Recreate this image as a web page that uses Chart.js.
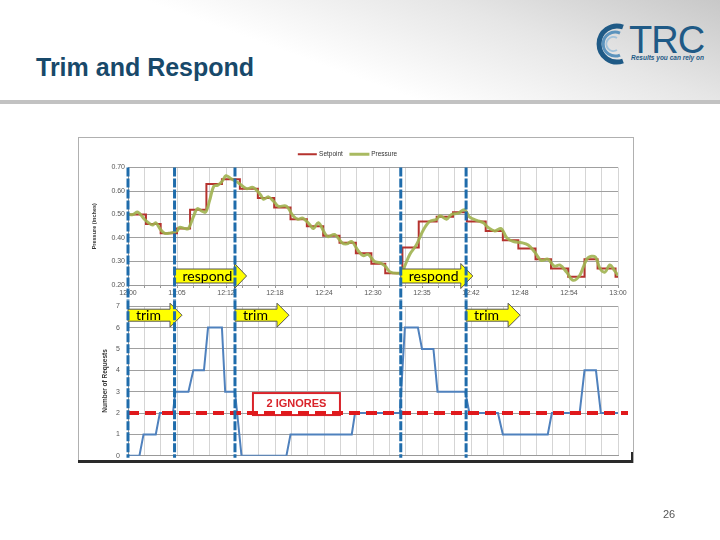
<!DOCTYPE html>
<html>
<head>
<meta charset="utf-8">
<title>Trim and Respond</title>
<script src="https://cdn.jsdelivr.net/npm/chart.js@4.4.1/dist/chart.umd.min.js"></script>
<style>
  html, body { margin: 0; padding: 0; }
  body { width: 720px; height: 540px; position: relative; overflow: hidden; background: #fff;
         font-family: "Liberation Sans", Arial, sans-serif; }
  #header { position: absolute; left: 0; top: 0; width: 720px; height: 100px;
            background: linear-gradient(200deg, #c8c8c8 0%, #e6e6e6 28%, #ffffff 58%); }
  #rule { position: absolute; left: 0; top: 100px; width: 720px; height: 4px; background: #c2c2c2; }
  #title { position: absolute; left: 36px; top: 53px; font-size: 25px; font-weight: bold; color: #18496a; }
  #logoText { position: absolute; left: 629px; top: 19px; font-size: 38px; color: #1f5a86; letter-spacing: -1px; }
  #tagline { position: absolute; left: 631px; top: 54px; font-size: 6.5px; font-style: italic; font-weight: bold; color: #1f5a86; }
  #logo { position: absolute; left: 592px; top: 18px; }
  #frame { position: absolute; left: 78px; top: 137px; width: 554px; height: 324px; border: 1px solid #b0b0b0; }
  #topChart { position: absolute; left: 78px; top: 142px; }
  #botChart { position: absolute; left: 78px; top: 294px; }
  #shadow { position: absolute; left: 78px; top: 460px; width: 555px; height: 3px; background: #2a2a2a; }
  #shadowR { position: absolute; left: 631px; top: 452px; width: 2px; height: 10px; background: #2a2a2a; }
  #page { position: absolute; left: 663px; top: 508px; font-size: 11px; color: #555; }
</style>
</head>
<body>
<div id="header"></div>
<div id="rule"></div>
<div id="title">Trim and Respond</div>
<svg id="logo" width="40" height="52" viewBox="0 0 40 52">
  <path d="M31 9 A18 18 0 1 0 31 43" fill="none" stroke="#1f5a86" stroke-width="5"/>
  <path d="M28 15 A12 12 0 1 0 28 37" fill="none" stroke="#5b93bd" stroke-width="3"/>
  <path d="M25 20 A7 7 0 1 0 25 32" fill="none" stroke="#a3c4dc" stroke-width="2"/>
</svg>
<div id="logoText">TRC</div>
<div id="tagline">Results you can rely on</div>
<div id="frame"></div>
<canvas id="topChart" width="555" height="158"></canvas>
<canvas id="botChart" width="555" height="174"></canvas>
<div id="shadow"></div>
<div id="shadowR"></div>
<div id="page">26</div>

<script>
// x axis is minutes after 12:00
const timeLabels = ["12:00", "12:05", "12:12", "12:18", "12:24", "12:30", "12:35", "12:42", "12:48", "12:54", "13:00"];

const setpointTimes = [0, 2.2, 4, 6, 7.6, 9.6, 11.5, 13.7, 15.9, 17.9, 19.9, 21.9, 23.9, 25.9, 27.9, 29.8,
  31.5, 33.6, 35.6, 37.8, 39.8, 41.5, 43.8, 45.9, 47.8, 49.9, 51.8, 53.9, 55.9, 57.5, 59.7, 60];
const setpointValues = [0.50, 0.46, 0.42, 0.44, 0.52, 0.63, 0.65, 0.61, 0.57, 0.53, 0.48, 0.45, 0.41, 0.38, 0.335, 0.29,
  0.25, 0.36, 0.47, 0.49, 0.51, 0.47, 0.43, 0.39, 0.355, 0.31, 0.27, 0.235, 0.31, 0.27, 0.235, 0.235];

const pressureTimes = [0, 0.6, 1.2, 2, 2.5, 3, 3.4, 4, 4.5, 5, 6, 6.3, 7, 7.4, 8, 8.5, 9, 9.5, 10, 10.5,
  11, 11.5, 12, 12.5, 13, 13.5, 14.5, 15.3, 16.2, 16.6, 17.2, 18, 18.4, 19.4, 20.2, 20.8, 21.4, 22.3, 22.7, 23.3,
  24.1, 24.5, 25.3, 26.2, 26.8, 27.4, 28.2, 28.8, 29.4, 30.2, 30.8, 31.5, 32.1, 32.9, 33.5, 34.5, 35.3, 36.1, 36.9, 37.8,
  38.2, 39, 39.6, 40.4, 41.2, 41.8, 42.7, 43.5, 44.1, 44.9, 45.7, 46.4, 47.2, 48.2, 49, 49.8, 50.6, 51.4, 52.2, 52.9,
  53.7, 54.5, 55.3, 55.8, 56.3, 57.2, 57.8, 58.4, 59, 59.6, 60];
const pressureValues = [0.50, 0.50, 0.51, 0.48, 0.465, 0.455, 0.465, 0.435, 0.42, 0.42,
  0.43, 0.445, 0.44, 0.44, 0.49, 0.525, 0.515, 0.51, 0.56, 0.62,
  0.625, 0.64, 0.665, 0.655, 0.645, 0.635, 0.61, 0.615, 0.585, 0.565,
  0.575, 0.55, 0.535, 0.535, 0.495, 0.48, 0.485, 0.455, 0.44, 0.465,
  0.42, 0.405, 0.415, 0.38, 0.375, 0.385, 0.345, 0.325, 0.33, 0.30,
  0.295, 0.28, 0.255, 0.25, 0.255, 0.33, 0.37, 0.43, 0.47, 0.48,
  0.495, 0.48, 0.50, 0.505, 0.52, 0.49, 0.475, 0.465, 0.445, 0.43,
  0.44, 0.40, 0.385, 0.38, 0.37, 0.34, 0.305, 0.31, 0.28, 0.285,
  0.255, 0.22, 0.24, 0.28, 0.315, 0.32, 0.27, 0.255, 0.285, 0.26, 0.24];

const requestTimes = [0, 1.4, 1.9, 3.4, 3.9, 5.5, 5.8, 7.4, 8, 9.3, 9.8, 11.5, 11.9, 13.1, 13.9, 19.4, 19.9, 27.4,
  27.8, 33.3, 33.9, 35.5, 36, 37.4, 37.9, 41.3, 41.8, 45.3, 45.9, 51.4, 51.9, 55.3, 55.9, 57.3, 57.9, 60];
const requestValues = [0, 0, 1, 1, 2, 2, 3, 3, 4, 4, 6, 6, 3, 3, 0, 0, 1, 1,
  2, 2, 6, 6, 5, 5, 3, 3, 2, 2, 1, 1, 2, 2, 4, 4, 2, 2];

const markerMinutes = [0, 5.7, 13.1, 33.4, 41.4];
const respondMinutes = [5.7, 33.4];
const trimMinutes = [0, 13.1, 41.4];
const ignoreLevel = 2;
const ignoreLabel = "2 IGNORES";

const pts = (xs, ys) => xs.map((x, i) => ({ x: x, y: ys[i] }));
const tickFont = { family: "Liberation Sans", size: 7 };

function drawArrow(ctx, x0, cy, len, bodyH, headH, text) {
  const headW = 12;
  ctx.save();
  ctx.setLineDash([]);
  ctx.beginPath();
  ctx.moveTo(x0, cy - bodyH / 2);
  ctx.lineTo(x0 + len - headW, cy - bodyH / 2);
  ctx.lineTo(x0 + len - headW, cy - headH / 2);
  ctx.lineTo(x0 + len, cy);
  ctx.lineTo(x0 + len - headW, cy + headH / 2);
  ctx.lineTo(x0 + len - headW, cy + bodyH / 2);
  ctx.lineTo(x0, cy + bodyH / 2);
  ctx.closePath();
  ctx.fillStyle = "#ffff00";
  ctx.fill();
  ctx.strokeStyle = "#555";
  ctx.lineWidth = 1;
  ctx.stroke();
  ctx.fillStyle = "#000";
  ctx.font = "14px Lato";
  ctx.textBaseline = "middle";
  ctx.fillText(text, x0 + 8, cy + 0.5);
  ctx.restore();
}

function drawMarkers(chart, top, bottom) {
  const ctx = chart.ctx, xs = chart.scales.x;
  ctx.save();
  ctx.strokeStyle = "#1f6cab";
  ctx.lineWidth = 3;
  ctx.setLineDash([9, 2]);
  markerMinutes.forEach(m => {
    const px = xs.getPixelForValue(m);
    ctx.beginPath();
    ctx.moveTo(px, top);
    ctx.lineTo(px, bottom);
    ctx.stroke();
  });
  ctx.restore();
}

const topOverlay = {
  id: "topOverlay",
  afterDatasetsDraw(chart) {
    const xs = chart.scales.x, area = chart.chartArea;
    respondMinutes.forEach(m => drawArrow(chart.ctx, xs.getPixelForValue(m), area.bottom - 9, 72, 14, 25, "respond"));
    drawMarkers(chart, area.top, chart.height);
  }
};

const botOverlay = {
  id: "botOverlay",
  afterDatasetsDraw(chart) {
    const ctx = chart.ctx, xs = chart.scales.x, ys = chart.scales.y, area = chart.chartArea;
    const yIgn = ys.getPixelForValue(ignoreLevel);
    // callout box
    const bx = xs.getPixelForValue(15.3);
    ctx.save();
    ctx.fillStyle = "#fff";
    ctx.strokeStyle = "#d9232a";
    ctx.lineWidth = 2;
    ctx.fillRect(bx, yIgn - 20, 87, 22);
    ctx.strokeRect(bx, yIgn - 20, 87, 22);
    ctx.fillStyle = "#d9232a";
    ctx.font = "bold 11px 'Liberation Sans'";
    ctx.textAlign = "center";
    ctx.textBaseline = "middle";
    ctx.fillText(ignoreLabel, bx + 43.5, yIgn - 9);
    // ignore threshold
    ctx.strokeStyle = "#e0191c";
    ctx.lineWidth = 4;
    ctx.setLineDash([11, 6]);
    ctx.beginPath();
    ctx.moveTo(area.left, yIgn);
    ctx.lineTo(area.right + 10, yIgn);
    ctx.stroke();
    ctx.restore();
    trimMinutes.forEach(m => drawArrow(ctx, xs.getPixelForValue(m), area.top + 9, 54, 12, 24, "trim"));
    drawMarkers(chart, area.top - 6, area.bottom + 2);
  }
};

new Chart(document.getElementById("topChart"), {
  type: "line",
  data: {
    datasets: [
      { label: "Setpoint", data: pts(setpointTimes, setpointValues), stepped: true,
        borderColor: "#b5322e", backgroundColor: "#b5322e", borderWidth: 2, pointRadius: 0, order: 1 },
      { label: "Pressure", data: pts(pressureTimes, pressureValues), tension: 0.35,
        borderColor: "rgba(160,178,80,0.9)", backgroundColor: "#a0b250", borderWidth: 3, pointRadius: 0, order: 0 }
    ]
  },
  options: {
    responsive: false,
    animation: false,
    layout: { padding: { top: 1, right: 15, left: 0, bottom: 0 } },
    plugins: {
      legend: {
        position: "top",
        padding: 13,
        labels: { boxWidth: 17, boxHeight: 0.01, padding: 8, font: { family: "Liberation Sans", size: 6.5 }, color: "#333",
                  sort: (a, b) => a.datasetIndex - b.datasetIndex }
      },
      tooltip: { enabled: false }
    },
    scales: {
      x: {
        type: "linear", min: 0, max: 60,
        afterFit: (s) => { s.height = 15; },
        ticks: { stepSize: 2, autoSkip: false, maxRotation: 0, padding: 1, font: tickFont, color: "#555",
                 callback: (v) => v % 6 === 0 ? timeLabels[v / 6] : "" },
        grid: { color: "#d5d5d5", tickLength: 3, tickColor: "#999" },
        border: { color: "#999" }
      },
      y: {
        min: 0.2, max: 0.7,
        afterFit: (s) => { s.width = 50; },
        ticks: { stepSize: 0.1, padding: 3, font: tickFont, color: "#555", callback: (v) => v.toFixed(2) },
        grid: { color: "#a0a0a0", tickLength: 0 },
        border: { color: "#999" },
        title: { display: true, text: "Pressure (inches)", color: "#333", padding: { top: 13, bottom: 0 },
                 font: { family: "Liberation Sans", size: 5.5, weight: "bold" } }
      }
    }
  },
  plugins: [topOverlay]
});

new Chart(document.getElementById("botChart"), {
  type: "line",
  data: {
    datasets: [
      { label: "Number of Requests", data: pts(requestTimes, requestValues),
        borderColor: "#4f81bd", borderWidth: 2, pointRadius: 0, tension: 0 }
    ]
  },
  options: {
    responsive: false,
    animation: false,
    layout: { padding: { top: 0, right: 15, left: 0, bottom: 0 } },
    plugins: { legend: { display: false }, tooltip: { enabled: false } },
    scales: {
      x: {
        type: "linear", min: 0, max: 60,
        afterFit: (s) => { s.height = 0; },
        ticks: { stepSize: 2, display: false },
        grid: { color: "#d5d5d5", drawTicks: false },
        border: { color: "#999" }
      },
      y: {
        min: 0, max: 7,
        afterFit: (s) => { s.width = 50; },
        ticks: { stepSize: 1, padding: 8, font: tickFont, color: "#555" },
        grid: { color: "#a0a0a0", tickLength: 0 },
        border: { color: "#999" },
        title: { display: true, text: "Number of Requests", color: "#333", padding: { top: 23, bottom: 0 },
                 font: { family: "Liberation Sans", size: 6.5, weight: "bold" } }
      }
    }
  },
  plugins: [botOverlay]
});
</script>
</body>
</html>
